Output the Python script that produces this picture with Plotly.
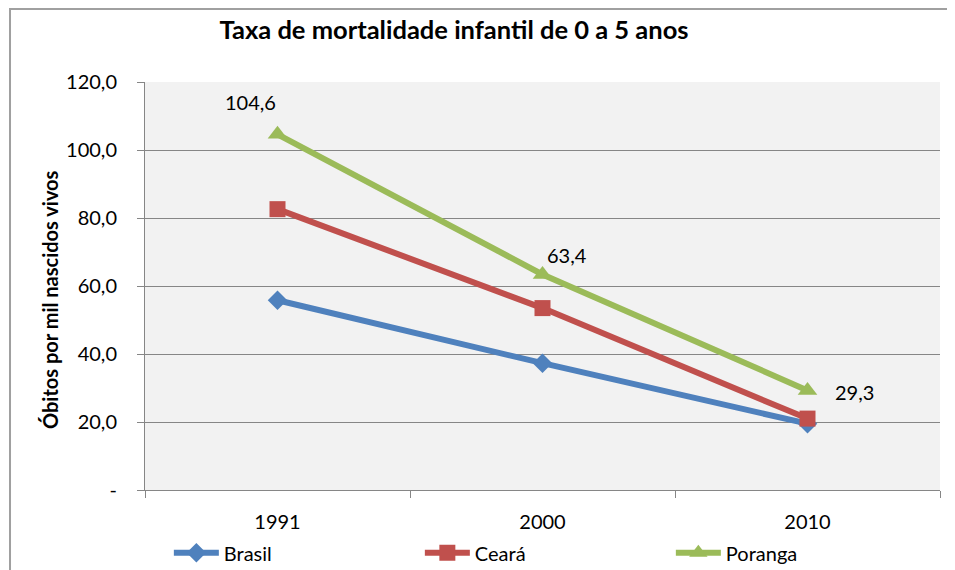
import plotly.graph_objects as go

years = ["1991", "2000", "2010"]
brasil = [55.8, 37.3, 19.5]
ceara = [82.6, 53.5, 21.0]
poranga = [104.6, 63.4, 29.3]
poranga_labels = ["104,6", "63,4", "29,3"]
label_shift_x = [-27, 24, 47]
label_shift_y = [32, 19, -2]
y_tickvals = [0, 20, 40, 60, 80, 100, 120]
y_ticktext = ["-", "20,0", "40,0", "60,0", "80,0", "100,0", "120,0"]
y_title = "<b>Óbitos por mil nascidos vivos</b>"

FONT = "Lato, Open Sans, sans-serif"

fig = go.Figure()
fig.add_trace(go.Scatter(
    x=years, y=brasil, name="Brasil", mode="lines+markers",
    line=dict(color="#4f81bd", width=6),
    marker=dict(symbol="diamond", size=15, color="#4f81bd"),
))
fig.add_trace(go.Scatter(
    x=years, y=ceara, name="Ceará", mode="lines+markers",
    line=dict(color="#c0504d", width=6),
    marker=dict(symbol="square", size=16, color="#c0504d"),
))
fig.add_trace(go.Scatter(
    x=years, y=poranga, name="Poranga", mode="lines+markers",
    line=dict(color="#9bbb59", width=6),
    marker=dict(symbol="triangle-up", size=17, color="#9bbb59"),
))

for i, (yv, lab, dx, dy) in enumerate(zip(poranga, poranga_labels, label_shift_x, label_shift_y)):
    fig.add_annotation(x=i, y=yv, xref="x", yref="y", text=lab, showarrow=False,
                       xshift=dx, yshift=dy,
                       font=dict(family=FONT, size=20, color="black"))

# y-axis title as rotated annotation
fig.add_annotation(x=-0.1195, y=0.468, xref="paper", yref="paper", text=y_title,
                   textangle=-90, showarrow=False, xanchor="center", yanchor="middle",
                   font=dict(family=FONT, size=20, color="black"))

fig.update_layout(
    width=947, height=562,
    margin=dict(l=137, r=15, t=74, b=80, autoexpand=False),
    paper_bgcolor="white",
    plot_bgcolor="#f2f2f2",
    font=dict(family=FONT, color="black"),
    title=dict(text="<b>Taxa de mortalidade infantil de 0 a 5 anos</b>",
               x=0.471, xanchor="center", y=0.961, yanchor="middle",
               font=dict(size=25.5, family=FONT)),
    showlegend=True,
    legend=dict(orientation="h", x=0.03, xanchor="left", y=-0.154, yanchor="middle",
                font=dict(size=20, family=FONT),
                entrywidth=191, entrywidthmode="pixels",
                itemwidth=45, bgcolor="rgba(0,0,0,0)"),
    shapes=[dict(type="rect", xref="paper", yref="paper",
                 x0=-0.1698, x1=1.1, y0=-0.3, y1=1.179,
                 line=dict(color="#a0a0a0", width=2))],
)

fig.update_xaxes(
    type="category", range=[-0.5, 2.5], automargin=False,
    showline=True, linecolor="#868686", linewidth=1,
    ticks="outside", tickson="boundaries", ticklen=7, tickcolor="#868686",
    ticklabelstandoff=14,
    showgrid=False, tickfont=dict(size=20, family=FONT),
)
fig.update_yaxes(
    range=[0, 120], tickvals=y_tickvals, ticktext=y_ticktext, automargin=False,
    showline=True, linecolor="#868686", linewidth=1,
    ticks="outside", ticklen=7, tickcolor="#868686",
    ticklabelstandoff=16,
    showgrid=True, gridcolor="#868686", gridwidth=1,
    zeroline=False,
    tickfont=dict(size=20, family=FONT),
)

fig.write_html("out.html")
